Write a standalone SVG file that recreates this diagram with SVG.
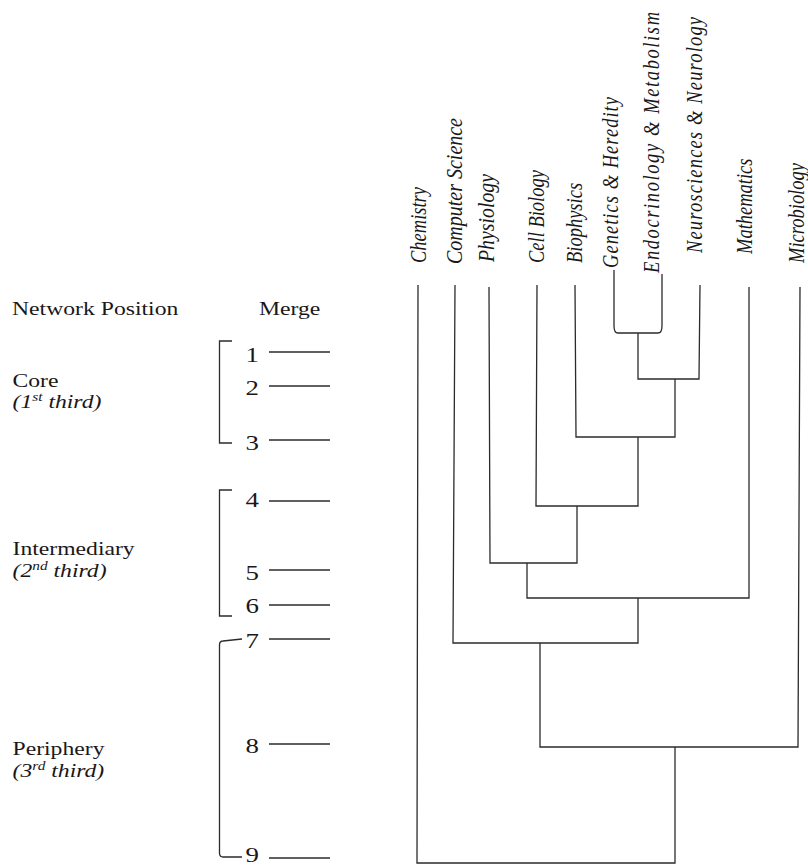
<svg xmlns="http://www.w3.org/2000/svg" width="808" height="866" viewBox="0 0 808 866">
<style>
text { font-family: "Liberation Serif", "Times New Roman", serif; fill: #1a1718; }
.lab { font-size: 18.5px; }
.it { font-style: italic; }
.leaf { font-size: 18.5px; font-style: italic; }
.num { font-size: 21px; }
.sup { font-size: 12px; }
.ln { fill: none; stroke: #2b2b2b; stroke-width: 1.3; }
</style>
<rect width="808" height="866" fill="#ffffff"/>

<g id="header">
<text class="lab" transform="translate(12,315) scale(1.28,1)">Network Position</text>
<text class="lab" transform="translate(259,315) scale(1.28,1)">Merge</text>
</g>

<g id="core">
<text class="lab" transform="translate(12.5,386.5) scale(1.28,1)">Core</text>
<text class="lab it" transform="translate(12.5,408) scale(1.28,1)">(1<tspan class="sup" dy="-7">st</tspan><tspan dy="7"> third)</tspan></text>
<path class="ln" d="M232 341H219.5V443H232"/>
</g>

<g id="intermediary">
<text class="lab" transform="translate(12.5,555) scale(1.28,1)">Intermediary</text>
<text class="lab it" transform="translate(12.5,577) scale(1.28,1)">(2<tspan class="sup" dy="-7">nd</tspan><tspan dy="7"> third)</tspan></text>
<path class="ln" d="M232 490H219.5V616H232"/>
</g>

<g id="periphery">
<text class="lab" transform="translate(12.5,755) scale(1.28,1)">Periphery</text>
<text class="lab it" transform="translate(12.5,777) scale(1.28,1)">(3<tspan class="sup" dy="-7">rd</tspan><tspan dy="7"> third)</tspan></text>
<path class="ln" d="M242 639L223 641Q219.5 641 219.5 645V853Q219.5 857 223 857H242"/>
</g>

<g id="merge-levels">
<g id="m1"><text class="num" text-anchor="end" transform="translate(259,362) scale(1.28,1)">1</text><line class="ln" x1="269" y1="352" x2="330" y2="352"/></g>
<g id="m2"><text class="num" text-anchor="end" transform="translate(259,395) scale(1.28,1)">2</text><line class="ln" x1="269" y1="386" x2="330" y2="386"/></g>
<g id="m3"><text class="num" text-anchor="end" transform="translate(259,450) scale(1.28,1)">3</text><line class="ln" x1="269" y1="440" x2="330" y2="440"/></g>
<g id="m4"><text class="num" text-anchor="end" transform="translate(259,507) scale(1.28,1)">4</text><line class="ln" x1="269" y1="501" x2="330" y2="501"/></g>
<g id="m5"><text class="num" text-anchor="end" transform="translate(259,580) scale(1.28,1)">5</text><line class="ln" x1="269" y1="570" x2="330" y2="570"/></g>
<g id="m6"><text class="num" text-anchor="end" transform="translate(259,613) scale(1.28,1)">6</text><line class="ln" x1="269" y1="605" x2="330" y2="605"/></g>
<g id="m7"><text class="num" text-anchor="end" transform="translate(259,648) scale(1.28,1)">7</text><line class="ln" x1="269" y1="639" x2="330" y2="639"/></g>
<g id="m8"><text class="num" text-anchor="end" transform="translate(259,753) scale(1.28,1)">8</text><line class="ln" x1="269" y1="744" x2="330" y2="744"/></g>
<g id="m9"><text class="num" text-anchor="end" transform="translate(259,862) scale(1.28,1)">9</text><line class="ln" x1="269" y1="858" x2="330" y2="858"/></g>
</g>

<g id="chemistry"><text class="leaf" transform="translate(426,263) scale(1.28,1) rotate(-90)">Chemistry</text></g>
<g id="computer-science"><text class="leaf" textLength="146" lengthAdjust="spacingAndGlyphs" transform="translate(462,264) scale(1.28,1) rotate(-90)">Computer Science</text></g>
<g id="physiology"><text class="leaf" textLength="88" lengthAdjust="spacingAndGlyphs" transform="translate(494,262) scale(1.28,1) rotate(-90)">Physiology</text></g>
<g id="cell-biology"><text class="leaf" transform="translate(544,263) scale(1.28,1) rotate(-90)">Cell Biology</text></g>
<g id="biophysics"><text class="leaf" transform="translate(582,263) scale(1.28,1) rotate(-90)">Biophysics</text></g>
<g id="genetics"><text class="leaf" textLength="171" lengthAdjust="spacing" transform="translate(617.5,268) scale(1.28,1) rotate(-90)">Genetics &amp; Heredity</text></g>
<g id="endocrinology"><text class="leaf" textLength="261" lengthAdjust="spacing" transform="translate(659,273) scale(1.28,1) rotate(-90)">Endocrinology &amp; Metabolism</text></g>
<g id="neurosciences"><text class="leaf" textLength="236" lengthAdjust="spacing" transform="translate(702,253) scale(1.28,1) rotate(-90)">Neurosciences &amp; Neurology</text></g>
<g id="mathematics"><text class="leaf" transform="translate(752,254) scale(1.28,1) rotate(-90)">Mathematics</text></g>
<g id="microbiology"><text class="leaf" transform="translate(804,263) scale(1.28,1) rotate(-90)">Microbiology</text></g>

<g id="connectors">
<path class="ln" d="M614 270V326Q614 333 618 333H658Q662 333 662 326V274"/>
<path class="ln" d="M638 333V379H699L700 285"/>
<path class="ln" d="M675 379V437H576L575 285"/>
<path class="ln" d="M638 437V506H536L537 285"/>
<path class="ln" d="M577 506V563H490L489 287"/>
<path class="ln" d="M527 563V598H749V287"/>
<path class="ln" d="M638 598V643H453L455 285"/>
<path class="ln" d="M540 643V747H798L800 287"/>
<path class="ln" d="M675 747V863H417L418 285"/>
</g>
</svg>
